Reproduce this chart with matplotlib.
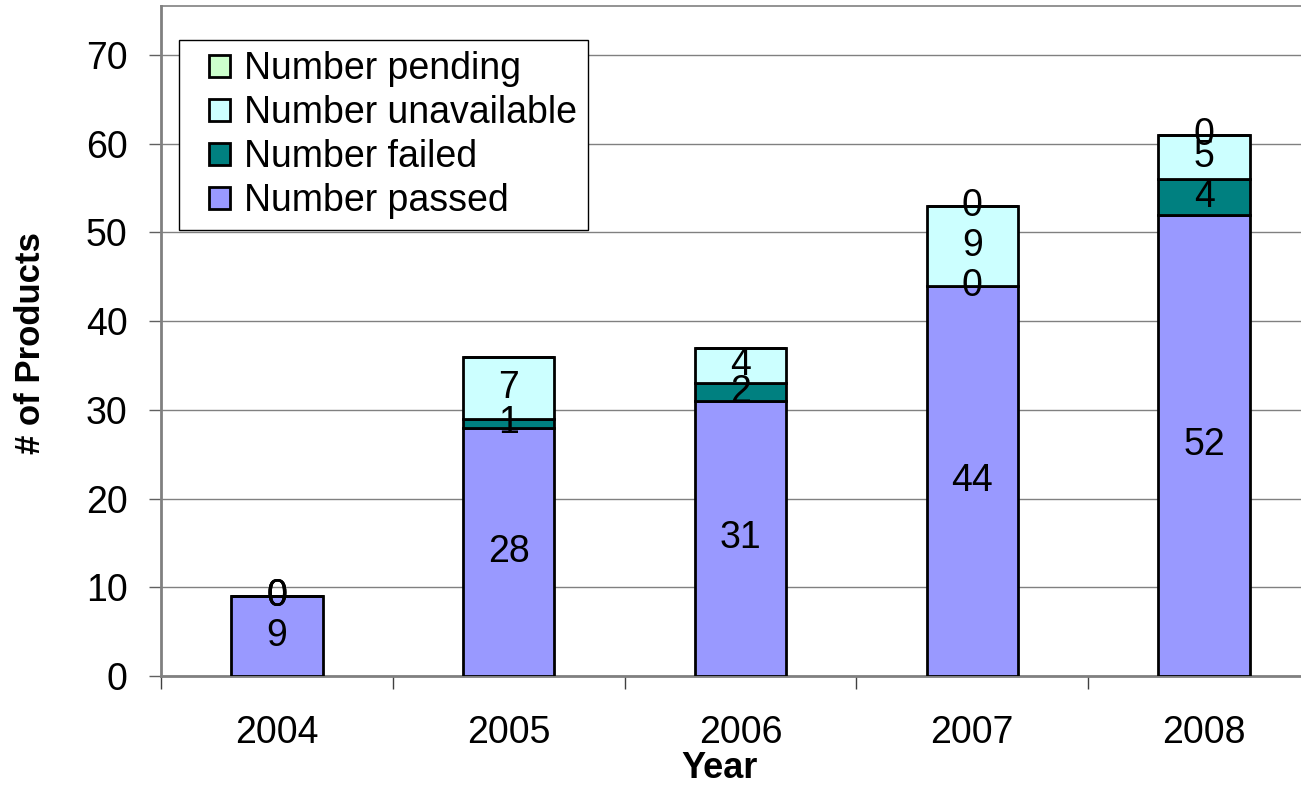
import numpy as np
import matplotlib
matplotlib.use("Agg")
import matplotlib.pyplot as plt
import matplotlib.patches as mpatches
from matplotlib.legend_handler import HandlerPatch

years = ['2004', '2005', '2006', '2007', '2008']
passed = [9, 28, 31, 44, 52]
failed = [0, 1, 2, 0, 4]
unavailable = [0, 7, 4, 9, 5]
pending = [0, np.nan, np.nan, 0, 0]

series_names = ['Number passed', 'Number failed', 'Number unavailable', 'Number pending']
series_colors = ['#9999FF', '#008080', '#CCFFFF', '#CCFFCC']

plt.rcParams['font.family'] = ['Liberation Sans', 'DejaVu Sans']
FS = 27

W, H = 1301, 786
fig = plt.figure(figsize=(W / 100, H / 100), dpi=100)
# plot area runs a bit past the right edge of the picture, like the original
ax = fig.add_axes([161 / W, 1 - 676 / H, (1320 - 161) / W, (676 - 6) / H])

x = np.arange(len(years))
bottom = np.zeros(len(years))
handles = []
for name, vals, col in zip(series_names, [passed, failed, unavailable, pending], series_colors):
    v = np.array(vals, dtype=float)
    h = np.nan_to_num(v)
    ax.bar(x, h, 0.395, bottom=bottom, color=col, edgecolor='black',
           linewidth=2, label=name, zorder=3)
    handles.append(mpatches.Rectangle((0, 0), 1, 1, facecolor=col, edgecolor='black', linewidth=2))
    for xi, val, b in zip(x, v, bottom):
        if np.isnan(val):
            continue
        ax.text(xi, b + val / 2, '%d' % val, ha='center', va='center',
                fontsize=FS, zorder=5)
    bottom = bottom + h

ax.set_xlim(-0.5, 4.5)
ax.set_ylim(0, 75.5)
ax.set_yticks(range(0, 80, 10))
ax.yaxis.grid(True, color='#808080', linewidth=1, zorder=0)
ax.set_axisbelow(True)

ax.set_xticks(x)
ax.set_xticklabels(years)
ax.set_xticks(np.arange(-0.5, 5, 1), minor=True)
ax.tick_params(axis='x', which='major', length=0, pad=28, labelsize=FS)
ax.tick_params(axis='x', which='minor', length=9, width=1, color='#404040')
ax.tick_params(axis='y', length=9, width=1, color='#606060', pad=15, labelsize=FS)

for s in ['left', 'bottom']:
    ax.spines[s].set_color('#808080')
    ax.spines[s].set_linewidth(2)
ax.spines['top'].set_color('#808080')
ax.spines['top'].set_linewidth(1.2)
ax.spines['right'].set_visible(False)

fig.text(31 / W, 1 - 343 / H, '# of Products', rotation=90, ha='center', va='center',
         fontsize=25, fontweight='bold', family=['Liberation Sans Narrow', 'Liberation Sans'])
fig.text(720 / W, 1 - 768 / H, 'Year', ha='center', va='center',
         fontsize=26, fontweight='bold', family=['Liberation Sans Narrow', 'Liberation Sans'])


def square(legend, orig_handle, xdescent, ydescent, width, height, fontsize):
    # small square pushed to the right end of the handle box
    s = 0.58 * fontsize
    return mpatches.Rectangle((width - s - xdescent, -ydescent + (height - s) / 2), s, s)


leg = ax.legend(handles[::-1], series_names[::-1], loc='upper left',
                bbox_to_anchor=(179 / W, 1 - 40 / H), bbox_transform=fig.transFigure,
                fontsize=FS, handlelength=1.07, handleheight=0.7, handletextpad=0.35,
                labelspacing=0.21, borderpad=0.3, borderaxespad=0, fancybox=False,
                framealpha=1, edgecolor='black',
                handler_map={mpatches.Rectangle: HandlerPatch(patch_func=square)})
leg.get_frame().set_linewidth(1)
leg.set_zorder(10)

fig.savefig('out.png', dpi=100)
